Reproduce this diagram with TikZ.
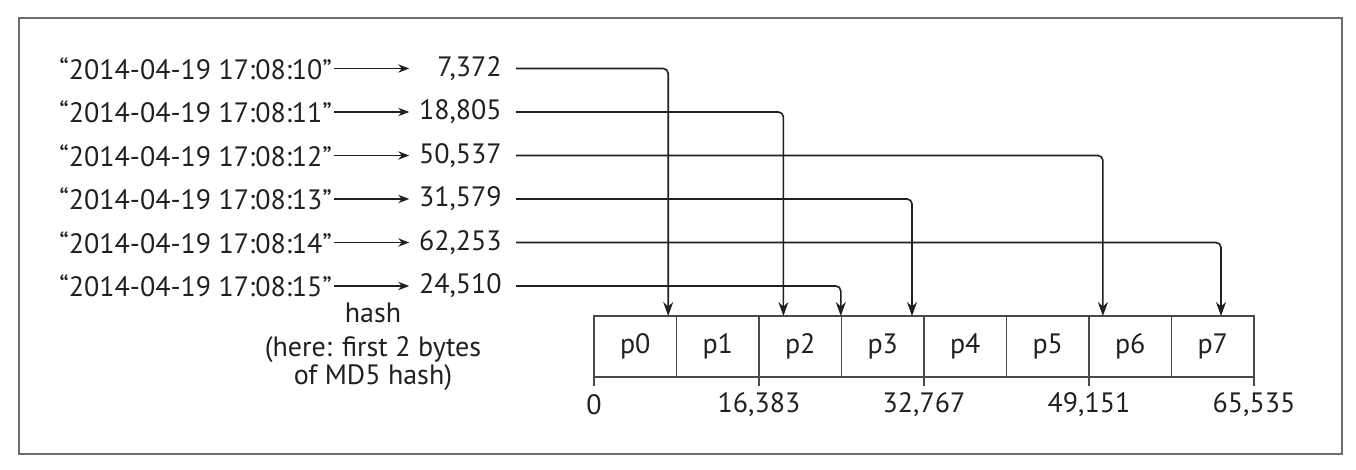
\documentclass[tikz,border=0pt]{standalone}
\usepackage{fontspec}
\setmainfont{PT Sans}
\usetikzlibrary{arrows.meta}

\definecolor{ink}{HTML}{231F20}
\definecolor{boxgray}{HTML}{4A4A4A}
\definecolor{framegray}{HTML}{6E6E6E}

\tikzset{
  txt/.style={inner sep=0pt, text=ink, font=\fontsize{14}{16}\selectfont},
  key/.style={txt, anchor=west},
  hashval/.style={txt, anchor=east, text width=44.5pt, align=right},
  cell/.style={txt, draw=boxgray, line width=0.6pt, minimum width=41.25pt, minimum height=30.5pt, outer sep=0pt},
  hasharrow/.style={draw=ink, line width=0.55pt, -{Stealth[length=5.5pt, width=4.2pt]}, shorten <=1pt, shorten >=1.5pt},
  route/.style={draw=ink, line width=0.8pt, rounded corners=2.5pt, -{Stealth[length=7pt, width=5pt]}, shorten <=7pt},
}

\begin{document}
\begin{tikzpicture}[x=0.5pt, y=-0.5pt]
\useasboundingbox (0,0) rectangle (1356,470);
\draw[framegray, line width=0.6pt] (19,18) rectangle (1342,454);

% keys and their hash values
\node[key] (k0) at (59,68.5) {“2014-04-19 17:08:10”};
\node[key] (k1) at (59,112) {“2014-04-19 17:08:11”};
\node[key] (k2) at (59,155.5) {“2014-04-19 17:08:12”};
\node[key] (k3) at (59,199) {“2014-04-19 17:08:13”};
\node[key] (k4) at (59,242.5) {“2014-04-19 17:08:14”};
\node[key] (k5) at (59,286) {“2014-04-19 17:08:15”};

\node[hashval] (n0) at (502,68.5) {7,372};
\node[hashval] (n1) at (502,112) {18,805};
\node[hashval] (n2) at (502,155.5) {50,537};
\node[hashval] (n3) at (502,199) {31,579};
\node[hashval] (n4) at (502,242.5) {62,253};
\node[hashval] (n5) at (502,286) {24,510};

\draw[hasharrow] (k0) -- (n0);
\draw[hasharrow] (k1) -- (n1);
\draw[hasharrow] (k2) -- (n2);
\draw[hasharrow] (k3) -- (n3);
\draw[hasharrow] (k4) -- (n4);
\draw[hasharrow] (k5) -- (n5);

\node[txt] (hash) at (373,313) {hash};
\node[txt, align=center, font=\fontsize{14}{12}\selectfont] (note) at (373,364) {(here: first 2 bytes\\of MD5 hash)};

% partitions
\node[cell] (p0) at (635.25,346.5) {p0};
\node[cell] (p1) at (717.75,346.5) {p1};
\node[cell] (p2) at (800.25,346.5) {p2};
\node[cell] (p3) at (882.75,346.5) {p3};
\node[cell] (p4) at (965.25,346.5) {p4};
\node[cell] (p5) at (1047.75,346.5) {p5};
\node[cell] (p6) at (1130.25,346.5) {p6};
\node[cell] (p7) at (1212.75,346.5) {p7};

\draw[boxgray, line width=0.6pt] (p0.south west) -- ++(0,9);
\draw[boxgray, line width=0.6pt] (p1.south east) -- ++(0,9);
\draw[boxgray, line width=0.6pt] (p3.south east) -- ++(0,9);
\draw[boxgray, line width=0.6pt] (p5.south east) -- ++(0,9);
\draw[boxgray, line width=0.6pt] (p7.south east) -- ++(0,9);

\node[txt] (b0) at (594,405) {0};
\node[txt] (b1) at (759,405) {16,383};
\node[txt] (b2) at (924,405) {32,767};
\node[txt] (b3) at (1089,405) {49,151};
\node[txt] (b4) at (1254,405) {65,535};

% where each hash lands
\coordinate (t0) at (668.2,316);
\coordinate (t1) at (783.4,316);
\coordinate (t2) at (1102.9,316);
\coordinate (t3) at (912,316);
\coordinate (t4) at (1221,316);
\coordinate (t5) at (840.8,316);

\draw[route] (n0.east) -| (t0);
\draw[route] (n1.east) -| (t1);
\draw[route] (n2.east) -| (t2);
\draw[route] (n3.east) -| (t3);
\draw[route] (n4.east) -| (t4);
\draw[route] (n5.east) -| (t5);
\end{tikzpicture}
\end{document}
